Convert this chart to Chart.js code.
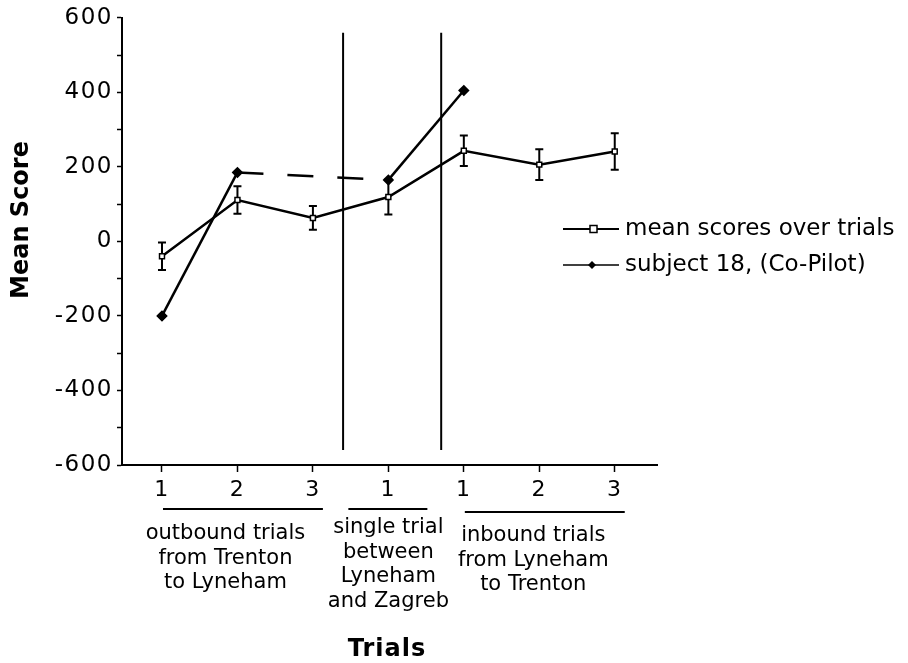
<!DOCTYPE html>
<html>
<head>
<meta charset="utf-8">
<script src="https://cdn.jsdelivr.net/npm/chart.js@4"></script>
<style>
  body { margin: 0; background: #fff; }
  #wrap { width: 908px; height: 663px; position: relative; }
</style>
</head>
<body>
<div id="wrap"><canvas id="line-chart"></canvas></div>
<script>
const trialLabels = ['1', '2', '3', '1', '1', '2', '3'];
const trialPos = [0, 1, 2, 3, 4, 5, 6];
const meanScores = [-40, 111, 63, 119, 243, 206, 241];
const meanErrors = [37, 37, 32, 47, 41, 41, 49];
const subjectScores = [-200, 185, null, 165, 405];
const dividerX = [2.4, 3.7];
const dividerSpan = [560, -560];
const groupNames = [
  ['outbound trials', 'from Trenton', 'to Lyneham'],
  ['single trial', 'between', 'Lyneham', 'and Zagreb'],
  ['inbound trials', 'from Lyneham', 'to Trenton']
];
const groupTrials = [[0, 2], [3, 3], [4, 6]];
const legendNames = ['mean scores over trials', 'subject 18, (Co-Pilot)'];

const FONT = '"DejaVu Sans", sans-serif';
const ctx = document.getElementById('line-chart').getContext('2d');

const dividerSets = dividerX.map(v => ({
  label: 'divider',
  data: dividerSpan.map(y => ({ x: v, y: y })),
  borderColor: '#000',
  borderWidth: 2,
  pointRadius: 0
}));

const extras = {
  id: 'extras',
  beforeDraw(chart) {
    // the old print has wide digits, space them out a little
    chart.ctx.letterSpacing = '1.5px';
  },
  beforeDatasetsDraw(chart) {
    const c = chart.ctx, x = chart.scales.x, y = chart.scales.y;
    c.letterSpacing = '0px';
    c.save();
    c.strokeStyle = '#000';
    c.lineWidth = 2;
    meanScores.forEach((m, i) => {
      const px = x.getPixelForValue(trialPos[i]);
      const top = y.getPixelForValue(m + meanErrors[i]);
      const bot = y.getPixelForValue(m - meanErrors[i]);
      c.beginPath();
      c.moveTo(px, top); c.lineTo(px, bot);
      c.moveTo(px - 4, top); c.lineTo(px + 4, top);
      c.moveTo(px - 4, bot); c.lineTo(px + 4, bot);
      c.stroke();
    });
    c.restore();
  },
  afterDraw(chart) {
    const c = chart.ctx, x = chart.scales.x;
    c.save();
    c.fillStyle = '#000';
    c.strokeStyle = '#000';

    // group captions under the axis
    c.font = '21px ' + FONT;
    c.textAlign = 'center';
    c.textBaseline = 'middle';
    groupTrials.forEach(([a, b], g) => {
      const left = x.getPixelForValue(trialPos[a]);
      const right = x.getPixelForValue(trialPos[b]);
      const single = a === b;
      const ux0 = single ? left - 40 : left + 1;
      const ux1 = single ? right + 39 : right + 10;
      const uy = g === 2 ? 512 : 509;
      c.lineWidth = 2;
      c.beginPath();
      c.moveTo(ux0, uy); c.lineTo(ux1, uy);
      c.stroke();
      const cx = single ? left : (left + right) / 2 - (g === 0 ? 12 : 6);
      const y0 = single ? 528 : (g === 0 ? 534 : 536);
      groupNames[g].forEach((t, k) => c.fillText(t, cx, y0 + k * 24.5));
    });

    // axis titles
    c.font = 'bold 24px ' + FONT;
    c.letterSpacing = '1px';
    c.fillText('Trials', 387, 650);
    c.letterSpacing = '0px';
    c.save();
    c.translate(22, 220);
    c.rotate(-Math.PI / 2);
    c.font = 'bold 24px ' + FONT;
    c.fillText('Mean Score', 0, 0);
    c.restore();

    // legend
    c.font = '23px ' + FONT;
    c.textAlign = 'left';
    const rows = [229, 265];
    rows.forEach((ry, k) => {
      c.lineWidth = k === 0 ? 2 : 1.5;
      c.beginPath();
      c.moveTo(563, ry); c.lineTo(619, ry);
      c.stroke();
      if (k === 0) {
        c.fillStyle = '#fff';
        c.fillRect(590, ry - 3.5, 7, 7);
        c.lineWidth = 1.5;
        c.strokeRect(590, ry - 3.5, 7, 7);
        c.fillStyle = '#000';
      } else {
        c.beginPath();
        c.moveTo(592, ry - 4); c.lineTo(596, ry); c.lineTo(592, ry + 4); c.lineTo(588, ry);
        c.closePath();
        c.fill();
      }
      c.fillText(legendNames[k], 625, ry);
    });
    c.restore();
  }
};

new Chart(ctx, {
  type: 'line',
  data: {
    datasets: [
      {
        label: legendNames[0],
        data: trialPos.map((v, i) => ({ x: v, y: meanScores[i] })),
        borderColor: '#000',
        borderWidth: 2.5,
        pointStyle: 'rect',
        pointRadius: 3.5,
        pointBackgroundColor: '#fff',
        pointBorderColor: '#000',
        pointBorderWidth: 1.5
      },
      {
        label: legendNames[1],
        data: subjectScores.map((v, i) => ({ x: trialPos[i], y: v })),
        borderColor: '#000',
        borderWidth: 2.5,
        spanGaps: true,
        pointStyle: 'rectRot',
        pointRadius: 4,
        pointBackgroundColor: '#000',
        pointBorderColor: '#000',
        // the gap over trial 3 is bridged with a dashed line
        segment: { borderDash: s => subjectScores[s.p0DataIndex] === null ? [26, 24] : undefined }
      },
      ...dividerSets
    ]
  },
  options: {
    responsive: true,
    maintainAspectRatio: false,
    animation: false,
    events: [],
    layout: { padding: { top: 13, right: 251, bottom: 0, left: 0 } },
    plugins: { legend: { display: false }, tooltip: { enabled: false } },
    elements: { line: { tension: 0 } },
    scales: {
      x: {
        type: 'linear',
        min: -0.53,
        max: 6.56,
        afterBuildTicks: axis => { axis.ticks = trialPos.map(v => ({ value: v })); },
        afterFit: s => { s.height = 198; },
        ticks: {
          autoSkip: false,
          maxRotation: 0,
          padding: 5,
          color: '#000',
          font: { family: FONT, size: 22 },
          callback: (v, i) => trialLabels[i]
        },
        grid: { drawOnChartArea: false, tickLength: 7, tickColor: '#000', tickWidth: 1.5 },
        border: { color: '#000', width: 2 }
      },
      y: {
        min: -600,
        max: 600,
        afterFit: s => { s.width = 122; },
        ticks: {
          stepSize: 100,
          padding: 4,
          color: '#000',
          font: { family: FONT, size: 23 },
          callback: v => v % 200 === 0 ? v : ''
        },
        grid: { drawOnChartArea: false, tickLength: 5, tickColor: '#000', tickWidth: 1.5 },
        border: { color: '#000', width: 2 }
      }
    }
  },
  plugins: [extras]
});
</script>
</body>
</html>
